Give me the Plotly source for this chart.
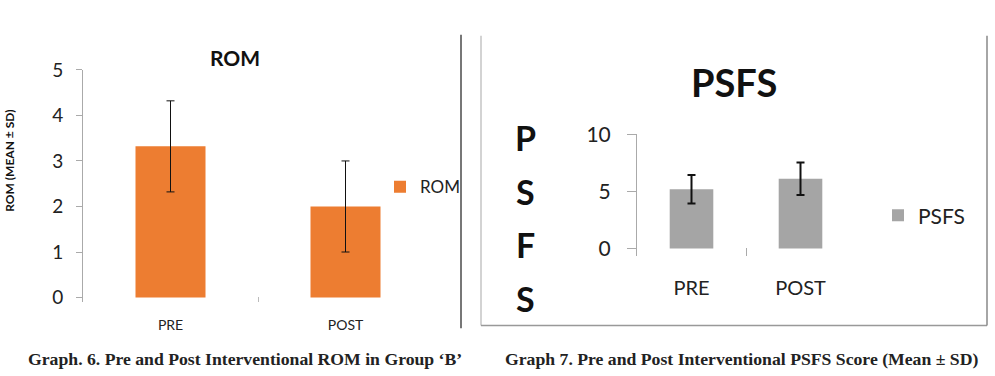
import plotly.graph_objects as go

# ---- data ----
categories = ["PRE", "POST"]
rom_mean = [3.32, 2.0]
rom_sd = [1.0, 1.0]
psfs_mean = [5.19, 6.1]
psfs_sd = [1.25, 1.42]

W, H = 995, 376
def px(x):
    return x / W
def py(y):
    return 1 - y / H

FONT = "Lato"
fig = go.Figure()

fig.add_trace(go.Bar(
    x=categories, y=rom_mean, name="ROM",
    marker=dict(color="#ED7D31", line=dict(width=0)),
    error_y=dict(type="data", array=rom_sd, visible=True, color="#111", thickness=1, width=4),
    xaxis="x", yaxis="y", legend="legend",
))
fig.add_trace(go.Bar(
    x=categories, y=psfs_mean, name="PSFS",
    marker=dict(color="#A5A5A5", line=dict(width=0)),
    error_y=dict(type="data", array=psfs_sd, visible=True, color="#111", thickness=2, width=4),
    xaxis="x2", yaxis="y2", legend="legend2",
))

axis_common = dict(showgrid=False, zeroline=False, fixedrange=True)

fig.update_layout(
    width=W, height=H, autosize=False,
    margin=dict(l=0, r=0, t=0, b=0),
    paper_bgcolor="white", plot_bgcolor="white",
    bargap=0.6,
    font=dict(family=FONT, color="#222"),
    xaxis=dict(domain=[px(83), px(433)], anchor="y", type="category",
               showline=False, ticks="inside", tickson="boundaries", ticklen=5,
               tickcolor="#bbb", tickfont=dict(size=14, color="#222"),
               ticklabelstandoff=13, **axis_common),
    yaxis=dict(domain=[py(304), py(59)], anchor="x", range=[-0.094, 5],
               tickvals=[0, 1, 2, 3, 4, 5], showline=True, linecolor="#aaa",
               ticks="outside", ticklen=6, tickcolor="#aaa",
               tickfont=dict(size=19, color="#222"), ticklabelstandoff=9, **axis_common),
    xaxis2=dict(domain=[px(637), px(855)], anchor="y2", type="category",
                showline=False, ticks="inside", tickson="boundaries", ticklen=8,
                tickcolor="#aaa", tickfont=dict(size=20, color="#222"),
                ticklabelstandoff=18, **axis_common),
    yaxis2=dict(domain=[py(256), py(127)], anchor="x2", range=[-0.7, 10],
                tickvals=[0, 5, 10], showline=True, linecolor="#aaa",
                ticks="outside", ticklen=9, tickcolor="#aaa",
                tickfont=dict(size=21, color="#222"), ticklabelstandoff=12, **axis_common),
    legend=dict(x=px(380), y=py(183), xanchor="left", yanchor="middle",
                bgcolor="rgba(0,0,0,0)", font=dict(size=17, color="#222")),
    legend2=dict(x=px(878), y=py(213), xanchor="left", yanchor="middle",
                 bgcolor="rgba(0,0,0,0)", font=dict(size=21, color="#222")),
    showlegend=True,
)

annotations = [
    dict(text="<b>ROM</b>", x=px(235), y=py(46), font=dict(size=21, color="#111")),
    dict(text="<b>PSFS</b>", x=px(734), y=py(72), font=dict(size=38, color="#111")),
    dict(text="<b>ROM (MEAN ± SD)</b>", x=px(10), y=py(155), textangle=-90,
         font=dict(size=12, color="#111")),
]
for ch, yy in zip(["P", "S", "F", "S"], [130, 187, 243, 300]):
    annotations.append(dict(text=f"<b>{ch}</b>", x=px(525), y=py(yy),
                            font=dict(size=34, color="#111")))
annotations += [
    dict(text="<b>Graph. 6. Pre and Post Interventional ROM in Group ‘B’</b>",
         x=px(245), y=py(364), font=dict(size=17.7, family="Liberation Serif", color="#222")),
    dict(text="<b>Graph 7. Pre and Post Interventional PSFS Score (Mean ± SD)</b>",
         x=px(741), y=py(364), font=dict(size=17.7, family="Liberation Serif", color="#222")),
]
for a in annotations:
    a.update(xref="paper", yref="paper", showarrow=False, xanchor="center", yanchor="middle")
fig.update_layout(annotations=annotations)

shapes = [
    dict(type="line", x0=px(461), x1=px(461), y0=py(22), y1=py(332), line=dict(color="#777", width=2)),
    dict(type="line", x0=px(481), x1=px(481), y0=py(23), y1=py(329), line=dict(color="#c4c4c4", width=1.5)),
    dict(type="line", x0=px(481), x1=px(987), y0=py(329), y1=py(329), line=dict(color="#999", width=1.5)),
    dict(type="line", x0=px(987), x1=px(987), y0=py(23), y1=py(329), line=dict(color="#888", width=1.5)),
]
for s in shapes:
    s.update(xref="paper", yref="paper")
fig.update_layout(shapes=shapes)

fig.write_html("out.html")
